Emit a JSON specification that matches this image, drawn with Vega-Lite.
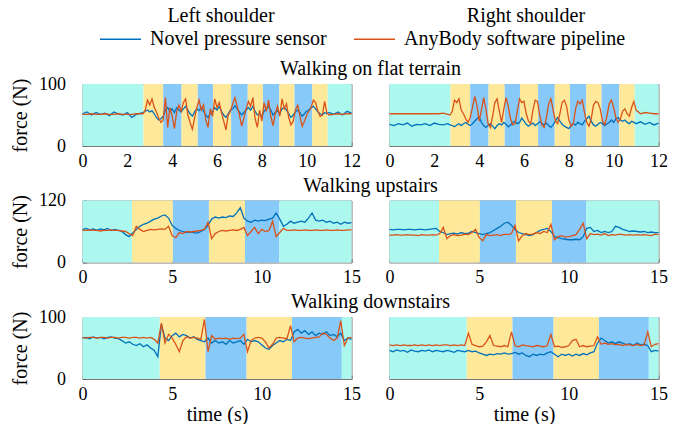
{
"$schema": "https://vega.github.io/schema/vega-lite/v6.json",
"padding": {"left": 9.5, "top": 5.5, "right": 5, "bottom": 1},
"background": "white",
"config": {
  "font": "Liberation Serif",
  "view": {"stroke": "#7a7a7a", "strokeWidth": 1},
  "title": {"font": "Liberation Serif", "fontSize": 20, "fontWeight": "normal", "color": "#000", "anchor": "middle", "offset": 4},
  "axis": {"labelFont": "Liberation Serif", "labelFontSize": 18, "labelColor": "#000", "titleFont": "Liberation Serif", "titleFontSize": 20, "titleFontWeight": "normal", "titleColor": "#000", "grid": false, "domain": false, "tickSize": -4, "tickColor": "#666", "labelFlush": false, "labelOverlap": false},
  "axisX": {"labelPadding": 10, "titlePadding": 1},
  "axisY": {"labelPadding": 21, "titlePadding": 8},
  "line": {"strokeWidth": 1.3}
},
"datasets": {
  "bandsF": [
    {"start": 0, "end": 2.72, "phase": "idle"},
    {"start": 2.72, "end": 3.6, "phase": "sA"},
    {"start": 3.6, "end": 4.42, "phase": "sB"},
    {"start": 4.42, "end": 5.14, "phase": "sA"},
    {"start": 5.14, "end": 5.82, "phase": "sB"},
    {"start": 5.82, "end": 6.63, "phase": "sA"},
    {"start": 6.63, "end": 7.37, "phase": "sB"},
    {"start": 7.37, "end": 8.05, "phase": "sA"},
    {"start": 8.05, "end": 8.78, "phase": "sB"},
    {"start": 8.78, "end": 9.46, "phase": "sA"},
    {"start": 9.46, "end": 10.25, "phase": "sB"},
    {"start": 10.25, "end": 10.94, "phase": "sA"},
    {"start": 10.94, "end": 12, "phase": "idle"}
  ],
  "bandsU": [
    {"start": 0, "end": 2.76, "phase": "idle"},
    {"start": 2.76, "end": 5.04, "phase": "sA"},
    {"start": 5.04, "end": 7.05, "phase": "sB"},
    {"start": 7.05, "end": 9.06, "phase": "sA"},
    {"start": 9.06, "end": 10.98, "phase": "sB"},
    {"start": 10.98, "end": 15, "phase": "idle"}
  ],
  "bandsD": [
    {"start": 0, "end": 4.31, "phase": "idle"},
    {"start": 4.31, "end": 6.86, "phase": "sA"},
    {"start": 6.86, "end": 9.15, "phase": "sB"},
    {"start": 9.15, "end": 11.68, "phase": "sA"},
    {"start": 11.68, "end": 14.46, "phase": "sB"},
    {"start": 14.46, "end": 15, "phase": "idle"}
  ],
  "LF": [
    {"t":0,"n":52,"a":51},{"t":0.2,"n":55,"a":51},{"t":0.4,"n":50,"a":52},{"t":0.6,"n":54,"a":51},{"t":0.8,"n":51,"a":51},{"t":1.0,"n":53,"a":52},{"t":1.2,"n":49,"a":51},{"t":1.4,"n":55,"a":51},{"t":1.6,"n":52,"a":52},{"t":1.8,"n":50,"a":51},{"t":2.0,"n":54,"a":51},{"t":2.2,"n":46,"a":51},{"t":2.4,"n":51,"a":52},{"t":2.6,"n":53,"a":52},
    {"t":2.7,"n":54,"a":52},{"t":2.8,"n":56,"a":58},{"t":2.9,"n":58,"a":74},{"t":3.0,"n":55,"a":66},{"t":3.1,"n":57,"a":76},{"t":3.2,"n":52,"a":62},{"t":3.3,"n":46,"a":55},{"t":3.4,"n":42,"a":45},{"t":3.5,"n":44,"a":38},{"t":3.6,"n":48,"a":42},
    {"t":3.7,"n":58,"a":78},{"t":3.8,"n":62,"a":30},{"t":3.9,"n":56,"a":62},{"t":4.0,"n":60,"a":48},{"t":4.1,"n":54,"a":28},{"t":4.2,"n":62,"a":55},{"t":4.3,"n":58,"a":66},{"t":4.4,"n":55,"a":56},{"t":4.5,"n":60,"a":70},{"t":4.6,"n":64,"a":76},
    {"t":4.7,"n":58,"a":50},{"t":4.8,"n":52,"a":38},{"t":4.9,"n":48,"a":27},{"t":5.0,"n":55,"a":45},{"t":5.1,"n":60,"a":62},{"t":5.2,"n":57,"a":74},{"t":5.3,"n":62,"a":58},{"t":5.4,"n":56,"a":66},{"t":5.5,"n":50,"a":42},{"t":5.6,"n":46,"a":30},
    {"t":5.7,"n":52,"a":60},{"t":5.8,"n":55,"a":48},{"t":5.9,"n":62,"a":76},{"t":6.0,"n":58,"a":62},{"t":6.1,"n":64,"a":70},{"t":6.2,"n":56,"a":54},{"t":6.3,"n":50,"a":40},{"t":6.4,"n":46,"a":26},{"t":6.5,"n":52,"a":50},{"t":6.6,"n":58,"a":56},
    {"t":6.7,"n":60,"a":68},{"t":6.8,"n":65,"a":78},{"t":6.9,"n":60,"a":64},{"t":7.0,"n":55,"a":50},{"t":7.1,"n":50,"a":32},{"t":7.2,"n":54,"a":45},{"t":7.3,"n":58,"a":60},{"t":7.4,"n":62,"a":72},{"t":7.5,"n":58,"a":64},{"t":7.6,"n":64,"a":78},
    {"t":7.7,"n":56,"a":44},{"t":7.8,"n":50,"a":30},{"t":7.9,"n":52,"a":58},{"t":8.0,"n":48,"a":40},{"t":8.1,"n":56,"a":70},{"t":8.2,"n":60,"a":56},{"t":8.3,"n":64,"a":74},{"t":8.4,"n":58,"a":48},{"t":8.5,"n":50,"a":33},{"t":8.6,"n":54,"a":52},
    {"t":8.7,"n":57,"a":64},{"t":8.8,"n":52,"a":48},{"t":8.9,"n":60,"a":76},{"t":9.0,"n":62,"a":60},{"t":9.1,"n":58,"a":68},{"t":9.2,"n":52,"a":46},{"t":9.3,"n":46,"a":34},{"t":9.4,"n":50,"a":40},{"t":9.5,"n":55,"a":58},{"t":9.6,"n":58,"a":66},
    {"t":9.7,"n":54,"a":48},{"t":9.8,"n":48,"a":32},{"t":9.9,"n":52,"a":40},{"t":10.0,"n":56,"a":50},{"t":10.1,"n":58,"a":56},{"t":10.2,"n":62,"a":62},{"t":10.3,"n":64,"a":74},{"t":10.4,"n":60,"a":70},{"t":10.5,"n":55,"a":56},{"t":10.6,"n":52,"a":48},
    {"t":10.7,"n":50,"a":50},{"t":10.8,"n":54,"a":72},{"t":10.9,"n":52,"a":54},
    {"t":11.0,"n":54,"a":50},{"t":11.2,"n":51,"a":51},{"t":11.4,"n":55,"a":52},{"t":11.6,"n":50,"a":51},{"t":11.8,"n":56,"a":52},{"t":12.0,"n":53,"a":52}
  ],
  "RF": [
    {"t":0,"n":35,"a":52},{"t":0.2,"n":33,"a":52},{"t":0.4,"n":36,"a":52},{"t":0.6,"n":34,"a":52},{"t":0.8,"n":37,"a":52},{"t":1.0,"n":32,"a":52},{"t":1.2,"n":35,"a":52},{"t":1.4,"n":34,"a":52},{"t":1.6,"n":36,"a":52},{"t":1.8,"n":33,"a":52},{"t":2.0,"n":37,"a":52},{"t":2.2,"n":35,"a":52},{"t":2.4,"n":34,"a":53},{"t":2.6,"n":36,"a":51},
    {"t":2.7,"n":34,"a":50},{"t":2.8,"n":33,"a":56},{"t":2.9,"n":31,"a":74},{"t":3.0,"n":34,"a":70},{"t":3.1,"n":36,"a":76},{"t":3.2,"n":33,"a":58},{"t":3.3,"n":36,"a":52},{"t":3.4,"n":38,"a":44},{"t":3.5,"n":35,"a":38},{"t":3.6,"n":33,"a":46},
    {"t":3.7,"n":36,"a":62},{"t":3.8,"n":40,"a":80},{"t":3.9,"n":44,"a":66},{"t":4.0,"n":47,"a":40},{"t":4.1,"n":38,"a":58},{"t":4.2,"n":33,"a":78},{"t":4.3,"n":30,"a":60},{"t":4.4,"n":33,"a":36},{"t":4.5,"n":36,"a":30},{"t":4.6,"n":32,"a":48},
    {"t":4.7,"n":28,"a":70},{"t":4.8,"n":33,"a":76},{"t":4.9,"n":36,"a":56},{"t":5.0,"n":34,"a":38},{"t":5.1,"n":38,"a":60},{"t":5.2,"n":35,"a":78},{"t":5.3,"n":31,"a":64},{"t":5.4,"n":34,"a":44},{"t":5.5,"n":38,"a":34},{"t":5.6,"n":40,"a":36},
    {"t":5.7,"n":36,"a":56},{"t":5.8,"n":38,"a":76},{"t":5.9,"n":45,"a":70},{"t":6.0,"n":40,"a":72},{"t":6.1,"n":35,"a":52},{"t":6.2,"n":32,"a":40},{"t":6.3,"n":35,"a":36},{"t":6.4,"n":37,"a":58},{"t":6.5,"n":33,"a":74},{"t":6.6,"n":36,"a":72},
    {"t":6.7,"n":39,"a":50},{"t":6.8,"n":36,"a":34},{"t":6.9,"n":34,"a":30},{"t":7.0,"n":37,"a":46},{"t":7.1,"n":33,"a":68},{"t":7.2,"n":30,"a":76},{"t":7.3,"n":34,"a":58},{"t":7.4,"n":40,"a":40},{"t":7.5,"n":46,"a":36},{"t":7.6,"n":40,"a":52},
    {"t":7.7,"n":35,"a":70},{"t":7.8,"n":32,"a":74},{"t":7.9,"n":30,"a":64},{"t":8.0,"n":28,"a":42},{"t":8.1,"n":33,"a":32},{"t":8.2,"n":36,"a":36},{"t":8.3,"n":34,"a":60},{"t":8.4,"n":38,"a":72},{"t":8.5,"n":36,"a":68},{"t":8.6,"n":34,"a":74},
    {"t":8.7,"n":40,"a":54},{"t":8.8,"n":44,"a":38},{"t":8.9,"n":48,"a":32},{"t":9.0,"n":40,"a":44},{"t":9.1,"n":34,"a":66},{"t":9.2,"n":32,"a":72},{"t":9.3,"n":35,"a":70},{"t":9.4,"n":38,"a":60},{"t":9.5,"n":36,"a":40},{"t":9.6,"n":33,"a":34},
    {"t":9.7,"n":36,"a":48},{"t":9.8,"n":38,"a":68},{"t":9.9,"n":42,"a":74},{"t":10.0,"n":38,"a":62},{"t":10.1,"n":44,"a":46},{"t":10.2,"n":46,"a":38},{"t":10.3,"n":42,"a":44},{"t":10.4,"n":40,"a":56},{"t":10.5,"n":42,"a":60},{"t":10.6,"n":38,"a":52},
    {"t":10.7,"n":36,"a":48},{"t":10.8,"n":40,"a":62},{"t":10.9,"n":38,"a":72},
    {"t":11.0,"n":36,"a":58},{"t":11.2,"n":39,"a":52},{"t":11.4,"n":35,"a":54},{"t":11.6,"n":38,"a":53},{"t":11.8,"n":34,"a":52},{"t":12.0,"n":37,"a":52}
  ],
  "LU": [
    {"t":0,"n":64,"a":62},{"t":0.2,"n":66,"a":62},{"t":0.4,"n":63,"a":63},{"t":0.6,"n":65,"a":62},{"t":0.8,"n":62,"a":62},{"t":1.0,"n":65,"a":61},{"t":1.2,"n":63,"a":62},{"t":1.4,"n":66,"a":62},{"t":1.6,"n":62,"a":63},{"t":1.8,"n":64,"a":62},
    {"t":2.0,"n":62,"a":62},{"t":2.2,"n":60,"a":61},{"t":2.4,"n":54,"a":60},{"t":2.6,"n":50,"a":56},{"t":2.8,"n":57,"a":52},{"t":3.0,"n":64,"a":70},{"t":3.2,"n":70,"a":64},{"t":3.4,"n":74,"a":60},{"t":3.6,"n":76,"a":62},{"t":3.8,"n":80,"a":64},
    {"t":4.0,"n":84,"a":63},{"t":4.2,"n":86,"a":64},{"t":4.4,"n":90,"a":65},{"t":4.6,"n":92,"a":64},{"t":4.8,"n":86,"a":70},{"t":5.0,"n":72,"a":52},{"t":5.2,"n":66,"a":48},{"t":5.4,"n":62,"a":58},{"t":5.6,"n":60,"a":56},{"t":5.8,"n":58,"a":60},
    {"t":6.0,"n":59,"a":59},{"t":6.2,"n":58,"a":60},{"t":6.4,"n":57,"a":61},{"t":6.6,"n":60,"a":62},{"t":6.8,"n":64,"a":64},{"t":7.0,"n":72,"a":78},{"t":7.2,"n":84,"a":46},{"t":7.4,"n":88,"a":56},{"t":7.6,"n":86,"a":60},{"t":7.8,"n":88,"a":62},
    {"t":8.0,"n":87,"a":61},{"t":8.2,"n":90,"a":62},{"t":8.4,"n":89,"a":63},{"t":8.6,"n":96,"a":62},{"t":8.8,"n":106,"a":64},{"t":9.0,"n":86,"a":68},{"t":9.2,"n":80,"a":52},{"t":9.4,"n":78,"a":60},{"t":9.6,"n":82,"a":68},{"t":9.8,"n":80,"a":56},
    {"t":10.0,"n":82,"a":64},{"t":10.2,"n":81,"a":60},{"t":10.4,"n":84,"a":62},{"t":10.6,"n":86,"a":80},{"t":10.8,"n":96,"a":50},{"t":11.0,"n":84,"a":58},{"t":11.2,"n":70,"a":66},{"t":11.4,"n":74,"a":62},{"t":11.6,"n":80,"a":62},{"t":11.8,"n":76,"a":63},
    {"t":12.0,"n":78,"a":62},{"t":12.2,"n":80,"a":62},{"t":12.4,"n":78,"a":63},{"t":12.6,"n":86,"a":62},{"t":12.8,"n":96,"a":62},{"t":13.0,"n":82,"a":63},{"t":13.2,"n":80,"a":62},{"t":13.4,"n":82,"a":62},{"t":13.6,"n":78,"a":63},{"t":13.8,"n":80,"a":62},
    {"t":14.0,"n":76,"a":62},{"t":14.2,"n":78,"a":63},{"t":14.4,"n":74,"a":62},{"t":14.6,"n":78,"a":62},{"t":14.8,"n":76,"a":63},{"t":15.0,"n":77,"a":63}
  ],
  "RU": [
    {"t":0,"n":64,"a":53},{"t":0.2,"n":63,"a":53},{"t":0.4,"n":64,"a":54},{"t":0.6,"n":64,"a":53},{"t":0.8,"n":63,"a":53},{"t":1.0,"n":64,"a":54},{"t":1.2,"n":64,"a":53},{"t":1.4,"n":63,"a":53},{"t":1.6,"n":64,"a":52},{"t":1.8,"n":64,"a":54},
    {"t":2.0,"n":63,"a":53},{"t":2.2,"n":64,"a":53},{"t":2.4,"n":65,"a":54},{"t":2.6,"n":66,"a":53},{"t":2.8,"n":60,"a":56},{"t":3.0,"n":58,"a":68},{"t":3.2,"n":54,"a":46},{"t":3.4,"n":56,"a":52},{"t":3.6,"n":57,"a":54},{"t":3.8,"n":55,"a":52},
    {"t":4.0,"n":58,"a":53},{"t":4.2,"n":56,"a":55},{"t":4.4,"n":57,"a":54},{"t":4.6,"n":60,"a":58},{"t":4.8,"n":58,"a":64},{"t":5.0,"n":56,"a":48},{"t":5.2,"n":54,"a":42},{"t":5.4,"n":56,"a":54},{"t":5.6,"n":58,"a":52},{"t":5.8,"n":62,"a":53},
    {"t":6.0,"n":66,"a":54},{"t":6.2,"n":70,"a":52},{"t":6.4,"n":76,"a":55},{"t":6.6,"n":78,"a":54},{"t":6.8,"n":72,"a":56},{"t":7.0,"n":64,"a":72},{"t":7.2,"n":58,"a":42},{"t":7.4,"n":56,"a":52},{"t":7.6,"n":54,"a":56},{"t":7.8,"n":52,"a":54},
    {"t":8.0,"n":54,"a":55},{"t":8.2,"n":58,"a":58},{"t":8.4,"n":62,"a":56},{"t":8.6,"n":64,"a":60},{"t":8.8,"n":66,"a":58},{"t":9.0,"n":60,"a":74},{"t":9.2,"n":50,"a":44},{"t":9.4,"n":48,"a":50},{"t":9.6,"n":46,"a":52},{"t":9.8,"n":45,"a":49},
    {"t":10.0,"n":44,"a":50},{"t":10.2,"n":44,"a":52},{"t":10.4,"n":45,"a":54},{"t":10.6,"n":44,"a":64},{"t":10.8,"n":50,"a":76},{"t":11.0,"n":66,"a":46},{"t":11.2,"n":68,"a":56},{"t":11.4,"n":60,"a":54},{"t":11.6,"n":62,"a":55},{"t":11.8,"n":58,"a":53},
    {"t":12.0,"n":60,"a":56},{"t":12.2,"n":58,"a":52},{"t":12.4,"n":60,"a":54},{"t":12.6,"n":70,"a":53},{"t":12.8,"n":68,"a":55},{"t":13.0,"n":64,"a":54},{"t":13.2,"n":62,"a":53},{"t":13.4,"n":60,"a":54},{"t":13.6,"n":61,"a":53},{"t":13.8,"n":60,"a":54},
    {"t":14.0,"n":59,"a":53},{"t":14.2,"n":60,"a":54},{"t":14.4,"n":58,"a":53},{"t":14.6,"n":59,"a":52},{"t":14.8,"n":58,"a":55},{"t":15.0,"n":58,"a":54}
  ],
  "LD": [
    {"t":0,"n":66,"a":67},{"t":0.2,"n":67,"a":66},{"t":0.4,"n":65,"a":67},{"t":0.6,"n":68,"a":67},{"t":0.8,"n":66,"a":66},{"t":1.0,"n":67,"a":67},{"t":1.2,"n":65,"a":67},{"t":1.4,"n":67,"a":66},{"t":1.6,"n":68,"a":67},{"t":1.8,"n":66,"a":67},
    {"t":2.0,"n":65,"a":66},{"t":2.2,"n":62,"a":67},{"t":2.4,"n":58,"a":67},{"t":2.6,"n":60,"a":66},{"t":2.8,"n":56,"a":67},{"t":3.0,"n":54,"a":67},{"t":3.2,"n":57,"a":66},{"t":3.4,"n":52,"a":67},{"t":3.6,"n":55,"a":66},{"t":3.8,"n":50,"a":67},
    {"t":4.0,"n":46,"a":64},{"t":4.2,"n":36,"a":58},{"t":4.4,"n":88,"a":90},{"t":4.6,"n":66,"a":58},{"t":4.8,"n":62,"a":72},{"t":5.0,"n":70,"a":66},{"t":5.2,"n":74,"a":56},{"t":5.4,"n":68,"a":44},{"t":5.6,"n":72,"a":62},{"t":5.8,"n":70,"a":68},
    {"t":6.0,"n":66,"a":66},{"t":6.2,"n":68,"a":67},{"t":6.4,"n":64,"a":66},{"t":6.6,"n":62,"a":64},{"t":6.8,"n":60,"a":96},{"t":7.0,"n":66,"a":44},{"t":7.2,"n":58,"a":70},{"t":7.4,"n":62,"a":64},{"t":7.6,"n":58,"a":66},{"t":7.8,"n":60,"a":65},
    {"t":8.0,"n":56,"a":66},{"t":8.2,"n":62,"a":64},{"t":8.4,"n":58,"a":66},{"t":8.6,"n":60,"a":65},{"t":8.8,"n":62,"a":66},{"t":9.0,"n":56,"a":72},{"t":9.2,"n":64,"a":44},{"t":9.4,"n":60,"a":62},{"t":9.6,"n":62,"a":66},{"t":9.8,"n":60,"a":67},
    {"t":10.0,"n":55,"a":66},{"t":10.2,"n":50,"a":60},{"t":10.4,"n":48,"a":50},{"t":10.6,"n":54,"a":56},{"t":10.8,"n":58,"a":66},{"t":11.0,"n":62,"a":67},{"t":11.2,"n":60,"a":66},{"t":11.4,"n":64,"a":65},{"t":11.6,"n":62,"a":86},{"t":11.8,"n":76,"a":60},
    {"t":12.0,"n":80,"a":66},{"t":12.2,"n":74,"a":67},{"t":12.4,"n":78,"a":66},{"t":12.6,"n":72,"a":65},{"t":12.8,"n":76,"a":66},{"t":13.0,"n":70,"a":67},{"t":13.2,"n":74,"a":68},{"t":13.4,"n":72,"a":74},{"t":13.6,"n":76,"a":72},{"t":13.8,"n":70,"a":66},
    {"t":14.0,"n":72,"a":62},{"t":14.2,"n":68,"a":66},{"t":14.4,"n":74,"a":94},{"t":14.6,"n":62,"a":54},{"t":14.8,"n":66,"a":66},{"t":15.0,"n":64,"a":67}
  ],
  "RD": [
    {"t":0,"n":46,"a":55},{"t":0.2,"n":44,"a":54},{"t":0.4,"n":47,"a":55},{"t":0.6,"n":45,"a":54},{"t":0.8,"n":46,"a":55},{"t":1.0,"n":43,"a":54},{"t":1.2,"n":47,"a":54},{"t":1.4,"n":45,"a":55},{"t":1.6,"n":44,"a":54},{"t":1.8,"n":46,"a":55},
    {"t":2.0,"n":45,"a":54},{"t":2.2,"n":47,"a":55},{"t":2.4,"n":44,"a":54},{"t":2.6,"n":46,"a":55},{"t":2.8,"n":45,"a":54},{"t":3.0,"n":44,"a":55},{"t":3.2,"n":46,"a":55},{"t":3.4,"n":45,"a":54},{"t":3.6,"n":43,"a":55},{"t":3.8,"n":46,"a":54},
    {"t":4.0,"n":45,"a":55},{"t":4.2,"n":44,"a":54},{"t":4.4,"n":46,"a":74},{"t":4.6,"n":44,"a":56},{"t":4.8,"n":45,"a":54},{"t":5.0,"n":42,"a":52},{"t":5.2,"n":40,"a":53},{"t":5.4,"n":38,"a":60},{"t":5.6,"n":40,"a":70},{"t":5.8,"n":39,"a":54},
    {"t":6.0,"n":41,"a":53},{"t":6.2,"n":40,"a":52},{"t":6.4,"n":42,"a":54},{"t":6.6,"n":40,"a":52},{"t":6.8,"n":41,"a":76},{"t":7.0,"n":43,"a":54},{"t":7.2,"n":40,"a":52},{"t":7.4,"n":42,"a":55},{"t":7.6,"n":38,"a":54},{"t":7.8,"n":36,"a":53},
    {"t":8.0,"n":40,"a":52},{"t":8.2,"n":38,"a":54},{"t":8.4,"n":40,"a":53},{"t":8.6,"n":39,"a":52},{"t":8.8,"n":42,"a":54},{"t":9.0,"n":44,"a":72},{"t":9.2,"n":40,"a":52},{"t":9.4,"n":36,"a":53},{"t":9.6,"n":40,"a":51},{"t":9.8,"n":38,"a":52},
    {"t":10.0,"n":40,"a":54},{"t":10.2,"n":37,"a":62},{"t":10.4,"n":40,"a":64},{"t":10.6,"n":38,"a":52},{"t":10.8,"n":41,"a":54},{"t":11.0,"n":39,"a":52},{"t":11.2,"n":42,"a":53},{"t":11.4,"n":44,"a":54},{"t":11.6,"n":58,"a":68},{"t":11.8,"n":66,"a":56},
    {"t":12.0,"n":62,"a":58},{"t":12.2,"n":58,"a":56},{"t":12.4,"n":60,"a":57},{"t":12.6,"n":57,"a":55},{"t":12.8,"n":60,"a":56},{"t":13.0,"n":58,"a":54},{"t":13.2,"n":55,"a":56},{"t":13.4,"n":57,"a":55},{"t":13.6,"n":54,"a":54},{"t":13.8,"n":58,"a":56},
    {"t":14.0,"n":55,"a":54},{"t":14.2,"n":56,"a":55},{"t":14.4,"n":54,"a":76},{"t":14.6,"n":44,"a":52},{"t":14.8,"n":46,"a":56},{"t":15.0,"n":45,"a":57}
  ]
},
"bounds": "flush",
"columns": 2,
"spacing": {"row": 54.5, "column": 38},
"concat": [
  {"width": 269, "height": 1, "title": {"text": "Left shoulder", "offset": 0, "dx": 4}, "view": {"stroke": null}, "data": {"values": [{"v": 0}]}, "mark": {"type": "point", "opacity": 0}, "encoding": {}},
  {"width": 269, "height": 1, "title": {"text": "Right shoulder", "offset": 0, "dx": 2}, "view": {"stroke": null}, "data": {"values": [{"v": 0}]}, "mark": {"type": "point", "opacity": 0}, "encoding": {}},
  {"width": 269, "height": 62, "title": {"text": "Walking on flat terrain", "frame": "group", "dx": 153.5, "offset": -4},
   "layer": [
    {"data": {"name": "bandsF"}, "mark": "rect", "encoding": {
      "x": {"field": "start", "type": "quantitative", "scale": {"domain": [0, 12], "nice": false}, "axis": {"values": [0, 2, 4, 6, 8, 10, 12]}, "title": null},
      "x2": {"field": "end"},
      "fill": {"field": "phase", "type": "nominal", "scale": {"domain": ["idle", "sA", "sB"], "range": ["#adf8ee", "#fee99b", "#87c9f9"]}, "legend": null}}},
    {"data": {"name": "LF"}, "transform": [{"fold": ["n", "a"], "as": ["series", "force"]}], "mark": {"type": "line"}, "encoding": {
      "x": {"field": "t", "type": "quantitative", "scale": {"domain": [0, 12], "nice": false}, "title": null},
      "y": {"field": "force", "type": "quantitative", "scale": {"domain": [0, 100], "nice": false}, "axis": {"values": [0, 100]}, "title": "force (N)"},
      "stroke": {"field": "series", "type": "nominal", "scale": {"domain": ["n", "a"], "range": ["#0072BD", "#D95319"]}, "legend": {"orient": "none", "legendX": 16.5, "legendY": -11, "direction": "horizontal", "title": null, "symbolType": "stroke", "symbolSize": 1681, "symbolStrokeWidth": 1.5, "labelFont": "Liberation Serif", "labelFontSize": 20, "labelColor": "#000", "labelLimit": 400, "columnPadding": 24, "labelOffset": 8, "padding": 0, "labelExpr": "datum.value == 'n' ? 'Novel pressure sensor' : 'AnyBody software pipeline'"}}}}
  ]},
  {"width": 269, "height": 62, "layer": [
    {"data": {"name": "bandsF"}, "mark": "rect", "encoding": {
      "x": {"field": "start", "type": "quantitative", "scale": {"domain": [0, 12], "nice": false}, "axis": {"values": [0, 2, 4, 6, 8, 10, 12]}, "title": null},
      "x2": {"field": "end"},
      "fill": {"field": "phase", "type": "nominal", "scale": {"domain": ["idle", "sA", "sB"], "range": ["#adf8ee", "#fee99b", "#87c9f9"]}, "legend": null}}},
    {"data": {"name": "RF"}, "transform": [{"fold": ["n", "a"], "as": ["series", "force"]}], "mark": {"type": "line"}, "encoding": {
      "x": {"field": "t", "type": "quantitative", "scale": {"domain": [0, 12], "nice": false}, "title": null},
      "y": {"field": "force", "type": "quantitative", "scale": {"domain": [0, 100], "nice": false}, "axis": null},
      "stroke": {"field": "series", "type": "nominal", "scale": {"domain": ["n", "a"], "range": ["#0072BD", "#D95319"]}}}}
  ]},
  {"width": 269, "height": 62, "title": {"text": "Walking upstairs", "frame": "group", "dx": 153.5, "offset": -4},
   "layer": [
    {"data": {"name": "bandsU"}, "mark": "rect", "encoding": {
      "x": {"field": "start", "type": "quantitative", "scale": {"domain": [0, 15], "nice": false}, "axis": {"values": [0, 5, 10, 15]}, "title": null},
      "x2": {"field": "end"},
      "fill": {"field": "phase", "type": "nominal", "scale": {"domain": ["idle", "sA", "sB"], "range": ["#adf8ee", "#fee99b", "#87c9f9"]}, "legend": null}}},
    {"data": {"name": "LU"}, "transform": [{"fold": ["n", "a"], "as": ["series", "force"]}], "mark": {"type": "line"}, "encoding": {
      "x": {"field": "t", "type": "quantitative", "scale": {"domain": [0, 15], "nice": false}, "title": null},
      "y": {"field": "force", "type": "quantitative", "scale": {"domain": [0, 120], "nice": false}, "axis": {"values": [0, 120]}, "title": "force (N)"},
      "stroke": {"field": "series", "type": "nominal", "scale": {"domain": ["n", "a"], "range": ["#0072BD", "#D95319"]}}}}
  ]},
  {"width": 269, "height": 62, "layer": [
    {"data": {"name": "bandsU"}, "mark": "rect", "encoding": {
      "x": {"field": "start", "type": "quantitative", "scale": {"domain": [0, 15], "nice": false}, "axis": {"values": [0, 5, 10, 15]}, "title": null},
      "x2": {"field": "end"},
      "fill": {"field": "phase", "type": "nominal", "scale": {"domain": ["idle", "sA", "sB"], "range": ["#adf8ee", "#fee99b", "#87c9f9"]}, "legend": null}}},
    {"data": {"name": "RU"}, "transform": [{"fold": ["n", "a"], "as": ["series", "force"]}], "mark": {"type": "line"}, "encoding": {
      "x": {"field": "t", "type": "quantitative", "scale": {"domain": [0, 15], "nice": false}, "title": null},
      "y": {"field": "force", "type": "quantitative", "scale": {"domain": [0, 120], "nice": false}, "axis": null},
      "stroke": {"field": "series", "type": "nominal", "scale": {"domain": ["n", "a"], "range": ["#0072BD", "#D95319"]}}}}
  ]},
  {"width": 269, "height": 62, "title": {"text": "Walking downstairs", "frame": "group", "dx": 153.5, "offset": -4},
   "layer": [
    {"data": {"name": "bandsD"}, "mark": "rect", "encoding": {
      "x": {"field": "start", "type": "quantitative", "scale": {"domain": [0, 15], "nice": false}, "axis": {"values": [0, 5, 10, 15]}, "title": "time (s)"},
      "x2": {"field": "end"},
      "fill": {"field": "phase", "type": "nominal", "scale": {"domain": ["idle", "sA", "sB"], "range": ["#adf8ee", "#fee99b", "#87c9f9"]}, "legend": null}}},
    {"data": {"name": "LD"}, "transform": [{"fold": ["n", "a"], "as": ["series", "force"]}], "mark": {"type": "line"}, "encoding": {
      "x": {"field": "t", "type": "quantitative", "scale": {"domain": [0, 15], "nice": false}, "title": "time (s)"},
      "y": {"field": "force", "type": "quantitative", "scale": {"domain": [0, 100], "nice": false}, "axis": {"values": [0, 100]}, "title": "force (N)"},
      "stroke": {"field": "series", "type": "nominal", "scale": {"domain": ["n", "a"], "range": ["#0072BD", "#D95319"]}}}}
  ]},
  {"width": 269, "height": 62, "layer": [
    {"data": {"name": "bandsD"}, "mark": "rect", "encoding": {
      "x": {"field": "start", "type": "quantitative", "scale": {"domain": [0, 15], "nice": false}, "axis": {"values": [0, 5, 10, 15]}, "title": "time (s)"},
      "x2": {"field": "end"},
      "fill": {"field": "phase", "type": "nominal", "scale": {"domain": ["idle", "sA", "sB"], "range": ["#adf8ee", "#fee99b", "#87c9f9"]}, "legend": null}}},
    {"data": {"name": "RD"}, "transform": [{"fold": ["n", "a"], "as": ["series", "force"]}], "mark": {"type": "line"}, "encoding": {
      "x": {"field": "t", "type": "quantitative", "scale": {"domain": [0, 15], "nice": false}, "title": "time (s)"},
      "y": {"field": "force", "type": "quantitative", "scale": {"domain": [0, 100], "nice": false}, "axis": null},
      "stroke": {"field": "series", "type": "nominal", "scale": {"domain": ["n", "a"], "range": ["#0072BD", "#D95319"]}}}}
  ]}
]
}
